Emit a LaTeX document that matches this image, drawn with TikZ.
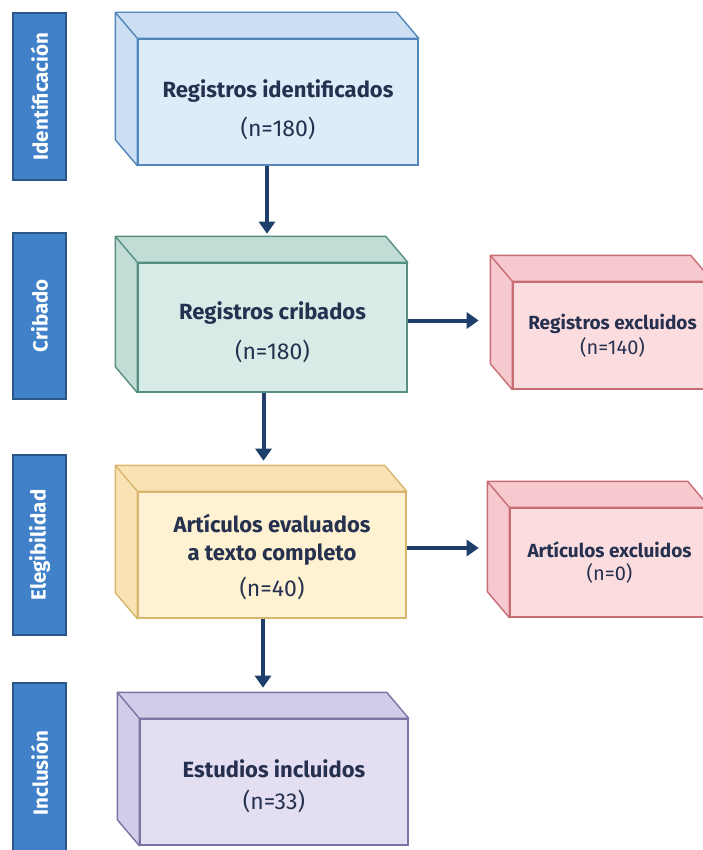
\documentclass[tikz,border=0pt]{standalone}
\usepackage{fontspec}
\setmainfont{Fira Sans}
\usetikzlibrary{arrows.meta,positioning}

\definecolor{barblue}{HTML}{4081C9}
\definecolor{bardark}{HTML}{2A5688}
\definecolor{ink}{HTML}{26304F}
\definecolor{arrowblue}{HTML}{1E3F6A}
% border, front face, side faces
\definecolor{bluedraw}{HTML}{5285BA}\definecolor{bluefront}{HTML}{DEECF9}\definecolor{blueside}{HTML}{CDE0F3}
\definecolor{greendraw}{HTML}{568F82}\definecolor{greenfront}{HTML}{D8ECE7}\definecolor{greenside}{HTML}{C2DDD6}
\definecolor{yellowdraw}{HTML}{D8B66E}\definecolor{yellowfront}{HTML}{FEF2D2}\definecolor{yellowside}{HTML}{F9E3B4}
\definecolor{reddraw}{HTML}{CA6C74}\definecolor{redfront}{HTML}{FBDDE0}\definecolor{redside}{HTML}{F5C9CD}
\definecolor{purpledraw}{HTML}{7C72A3}\definecolor{purplefront}{HTML}{E3DEF2}\definecolor{purpleside}{HTML}{D3CCE8}

\tikzset{
  phase/.style={draw=bardark, fill=barblue, line width=1.2pt, rotate=90,
    minimum height=53pt, inner sep=0pt, text=white,
    font=\bfseries\fontsize{20.5}{24}\selectfont},
  cube/.style={draw=#1draw, fill=#1front, line width=1.4pt,
    minimum width=268pt, minimum height=126pt, inner sep=0pt,
    text=ink, align=center, font=\bfseries\fontsize{22}{26}\selectfont},
  smallcube/.style={cube=#1, minimum width=199pt, minimum height=107pt,
    font=\bfseries\fontsize{19}{22}\selectfont},
  arr/.style={arrowblue, line width=4pt, -{Triangle[width=16pt,length=12pt]}},
}

% top and left faces of a box
\newcommand{\boxdepth}[2]{%
  \filldraw[draw=#2draw, fill=#2side, line width=1.4pt, line join=round]
    (#1.north west) -- ++(-22,-26) -- ([shift={(-22,-26)}]#1.north east) -- (#1.north east) -- cycle
    (#1.north west) -- ++(-22,-26) -- ([shift={(-22,-26)}]#1.south west) -- (#1.south west) -- cycle;
}
\newcommand{\nline}[1]{{\mdseries\fontsize{23}{26}\selectfont #1}}
\newcommand{\nsmall}[1]{{\mdseries\fontsize{20}{22}\selectfont #1}}

\begin{document}
\begin{tikzpicture}[x=1pt,y=-1pt]
  \useasboundingbox[fill=white] (0,0) rectangle (702,850);

  % phases
  \node[phase, minimum width=167pt] (pIdent) at (39.5,96.5) {Identificación};
  \node[phase, minimum width=166pt] (pCrib) at (39.5,316) {Cribado};
  \node[phase, minimum width=180pt] (pEleg) at (39.5,545) {Elegibilidad};
  \node[phase, minimum width=180pt] (pIncl) at (39.5,773) {Inclusión};

  % boxes
  \node[cube=blue, minimum width=280pt] (ident) at (278,102)
    {\rule{0pt}{34pt}Registros identificados\\[13pt]\nline{(n=180)}};
  \node[cube=green, minimum width=269pt, minimum height=129pt] (crib) at (272.5,327.5)
    {\rule{0pt}{28pt}Registros cribados\\[14pt]\nline{(n=180)}};
  \node[cube=yellow] (eleg) at (272,555)
    {\rule{0pt}{22pt}Artículos evaluados\\[2pt]a texto completo\\[10pt]\nline{(n=40)}};
  \node[cube=purple] (incl) at (274,782)
    {\rule{0pt}{26pt}Estudios incluidos\\[6pt]\nline{(n=33)}};
  \node[smallcube=red] (exclA) at (612.5,335.5)
    {Registros excluidos\\[3pt]\nsmall{(n=140)}};
  \node[smallcube=red, minimum height=109pt] (exclB) at (609.5,562.5)
    {Artículos excluidos\\[1pt]\nsmall{(n=0)}};

  \boxdepth{ident}{blue}
  \boxdepth{crib}{green}
  \boxdepth{eleg}{yellow}
  \boxdepth{incl}{purple}
  \boxdepth{exclA}{red}
  \boxdepth{exclB}{red}

  % arrows
  \draw[arr] ([xshift=-11pt]ident.south) -- ++(0,68);
  \draw[arr] ([xshift=-9pt]crib.south) -- ++(0,68);
  \draw[arr] ([xshift=-9pt]eleg.south) -- ++(0,69);
  \draw[arr] ([yshift=7pt]crib.east) -- ++(71,0);
  \draw[arr] ([yshift=7pt]eleg.east) -- ++(72,0);
\end{tikzpicture}
\end{document}
